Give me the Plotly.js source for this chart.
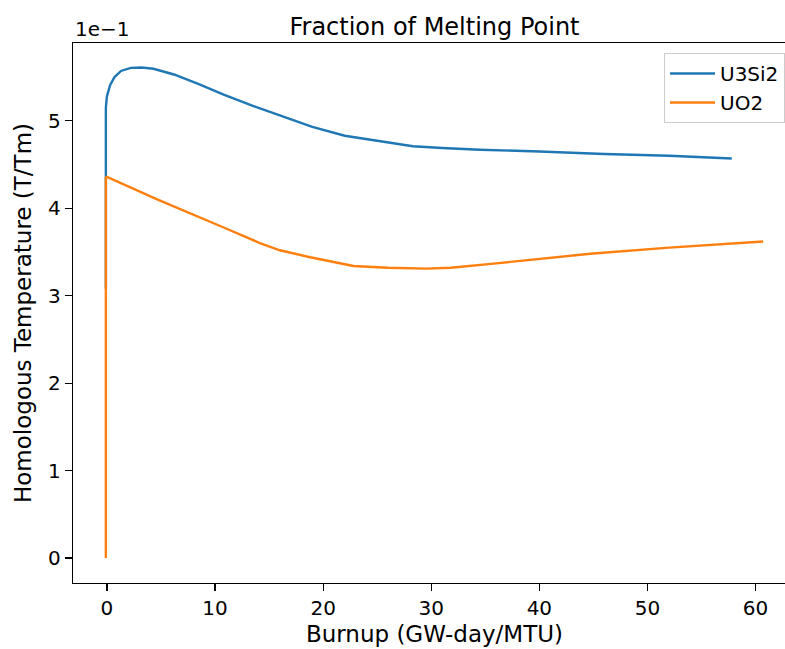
<!DOCTYPE html>
<html>
<head>
<meta charset="utf-8">
<script src="https://cdn.plot.ly/plotly-3.0.1.min.js"></script>
<style>
html, body { margin: 0; padding: 0; overflow: hidden; background: #fff; }
#chart { width: 800px; height: 649px; }
</style>
</head>
<body>
<div id="chart"></div>
<script>
// Burnup (GW-day/MTU) and homologous temperature (T/Tm)
const u3si2Burnup = [-0.1, -0.1, 0.0, 0.3, 0.7, 1.3, 2.2, 3.2, 4.3, 6.2, 8.5, 10.8, 13.5, 16.5, 19.0, 22.0, 25.0, 28.3, 31.0, 34.5, 40.0, 46.0, 52.0, 57.8];
const u3si2Temp   = [0.308, 0.515, 0.528, 0.541, 0.550, 0.557, 0.5605, 0.561, 0.5595, 0.553, 0.542, 0.530, 0.517, 0.504, 0.493, 0.483, 0.477, 0.471, 0.469, 0.467, 0.465, 0.462, 0.460, 0.457];
const uo2Burnup   = [-0.1, -0.1, 0.0, 4.7, 10.8, 14.2, 16.0, 18.8, 22.8, 26.0, 29.6, 31.8, 36.0, 44.7, 52.0, 60.7];
const uo2Temp     = [0.0, 0.435, 0.436, 0.410, 0.378, 0.360, 0.352, 0.344, 0.334, 0.332, 0.331, 0.332, 0.337, 0.348, 0.355, 0.362];
const xTicks = [0, 10, 20, 30, 40, 50, 60];
const yTicks = [0, 0.1, 0.2, 0.3, 0.4, 0.5];
const yTickText = ['0', '1', '2', '3', '4', '5'];

const font = 'DejaVu Sans, sans-serif';
const traces = [
  { x: u3si2Burnup, y: u3si2Temp, mode: 'lines', name: 'U3Si2', line: { color: '#1f77b4', width: 2.4 } },
  { x: uo2Burnup, y: uo2Temp, mode: 'lines', name: 'UO2', line: { color: '#ff7f0e', width: 2.4 } }
];
const layout = {
  width: 800, height: 649,
  margin: { l: 73, r: 4, t: 43, b: 66 },
  paper_bgcolor: '#fff', plot_bgcolor: '#fff',
  font: { family: font, color: '#000', size: 20 },
  title: { text: 'Fraction of Melting Point', font: { family: font, size: 24, color: '#000' }, x: 0.5, xref: 'paper', xanchor: 'center', y: 1, yref: 'paper', yanchor: 'bottom', pad: { b: 8 } },
  xaxis: {
    title: { text: 'Burnup (GW-day/MTU)', font: { family: font, size: 23 }, standoff: 6 },
    range: [-3.14, 63.74], tickvals: xTicks, ticks: 'outside', ticklen: 7, tickwidth: 1.2, tickcolor: '#000',
    showgrid: false, zeroline: false, showline: true, mirror: true, linecolor: '#000', linewidth: 1.2,
    tickfont: { family: font, size: 20 }
  },
  yaxis: {
    title: { text: 'Homologous Temperature (T/Tm)', font: { family: font, size: 23 }, standoff: 10 },
    range: [-0.0285, 0.589], tickvals: yTicks, ticktext: yTickText, ticks: 'outside', ticklen: 7, tickwidth: 1.2, tickcolor: '#000',
    showgrid: false, zeroline: false, showline: true, mirror: true, linecolor: '#000', linewidth: 1.2,
    tickfont: { family: font, size: 20 }
  },
  legend: {
    x: (785 - 73) / 723, xanchor: 'right', xref: 'paper', y: 1 - 10 / 540, yanchor: 'top',
    bgcolor: 'rgba(255,255,255,0.85)', bordercolor: '#cccccc', borderwidth: 1,
    itemwidth: 45,
    font: { family: font, size: 20 }
  },
  annotations: [
    { text: '1e\u22121', xref: 'paper', yref: 'paper', x: 0, y: 1, xanchor: 'left', yanchor: 'bottom', showarrow: false, yshift: 0, font: { family: font, size: 20, color: '#000' } }
  ],
  showlegend: true
};
Plotly.newPlot('chart', traces, layout, { displayModeBar: false, staticPlot: true });
</script>
</body>
</html>
